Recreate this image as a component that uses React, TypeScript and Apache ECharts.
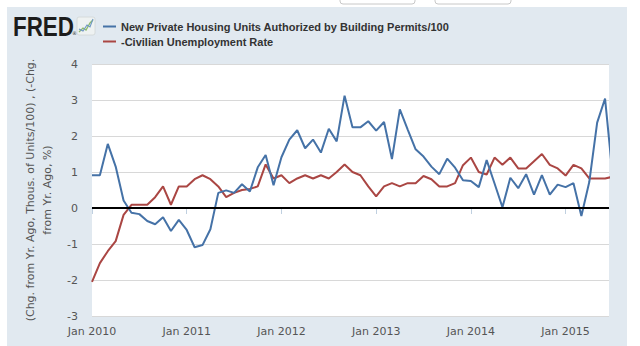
import React, { useEffect, useRef } from "react";
import * as echarts from "echarts";

const startYear = 2010;
const yearTickMonths = [0, 12, 24, 36, 48, 60];

const seriesNames = [
  "New Private Housing Units Authorized by Building Permits/100",
  "-Civilian Unemployment Rate",
];

const yAxisTitle = "(Chg. from Yr. Ago, Thous. of Units/100) , (-Chg.\nfrom Yr. Ago, %)";

// Monthly values, Jan 2010 .. Jul 2015
const permitsChange = [
  0.91, 0.91, 1.78, 1.15, 0.21, -0.13, -0.17, -0.36, -0.45, -0.26, -0.64, -0.33,
  -0.61, -1.09, -1.03, -0.59, 0.42, 0.49, 0.42, 0.66, 0.46, 1.13, 1.47, 0.63,
  1.41, 1.9, 2.16, 1.66, 1.9, 1.54, 2.2, 1.85, 3.12, 2.24, 2.24, 2.41,
  2.15, 2.39, 1.36, 2.74, 2.18, 1.63, 1.43, 1.15, 0.94, 1.37, 1.12, 0.77,
  0.75, 0.58, 1.33, 0.68, 0.02, 0.84, 0.55, 0.94, 0.37, 0.91, 0.37, 0.65,
  0.58, 0.69, -0.22, 0.72, 2.37, 3.04, 0.8,
];

const unemploymentChange = [
  -2.05, -1.53, -1.2, -0.92, -0.19, 0.09, 0.09, 0.09, 0.3, 0.6, 0.09, 0.6,
  0.6, 0.8, 0.91, 0.8, 0.6, 0.3, 0.42, 0.5, 0.53, 0.6, 1.21, 0.82,
  0.91, 0.69, 0.82, 0.91, 0.82, 0.91, 0.82, 1.0, 1.21, 1.0, 0.91, 0.6,
  0.32, 0.6, 0.69, 0.6, 0.69, 0.69, 0.89, 0.8, 0.6, 0.6, 0.69, 1.19,
  1.4, 1.0, 0.93, 1.4, 1.2, 1.4, 1.1, 1.1, 1.3, 1.5, 1.2, 1.1,
  0.9, 1.2, 1.1, 0.82, 0.82, 0.82, 0.87,
];

const colors = ["#4572A7", "#AA4643"];

export default function App() {
  const ref = useRef<HTMLDivElement | null>(null);

  useEffect(() => {
    document.body.style.margin = "0";
    if (!ref.current) return;
    const chart = echarts.init(ref.current, undefined, { renderer: "svg" });
    const toPairs = (arr: number[]) => arr.map((v, i) => [i, v]);
    chart.setOption({
      animation: false,
      textStyle: { fontFamily: "DejaVu Sans" },
      graphic: [
        {
          type: "rect",
          shape: { x: 340, y: -10, width: 75, height: 14, r: 3 },
          style: { fill: "#ffffff", stroke: "#c8c8c8", lineWidth: 1 },
          silent: true,
        },
        {
          type: "rect",
          shape: { x: 435, y: -10, width: 76, height: 14, r: 3 },
          style: { fill: "#ffffff", stroke: "#c8c8c8", lineWidth: 1 },
          silent: true,
        },
        {
          type: "text",
          x: 13,
          y: 12,
          scaleX: 0.8,
          style: {
            text: "FRED",
            font: 'bold 28px "Liberation Sans"',
            fill: "#1c1c1c",
          },
          silent: true,
        },
        {
          type: "text",
          x: 72,
          y: 30,
          style: { text: "®", font: '5px "DejaVu Sans"', fill: "#333" },
          silent: true,
        },
        {
          type: "rect",
          shape: { x: 77, y: 17, width: 18, height: 18, r: 2 },
          style: { fill: "#eef2f2", stroke: "#d0d6d6", lineWidth: 0.8 },
          silent: true,
        },
        {
          type: "polyline",
          shape: { points: [[79, 32], [83, 28], [86, 30], [90, 23], [93, 20]] },
          style: { stroke: "#8dbb6a", lineWidth: 1.3, fill: "none" },
          silent: true,
        },
        {
          type: "polyline",
          shape: { points: [[79, 29], [83, 31], [87, 25], [90, 27], [93, 19]] },
          style: { stroke: "#6f98c4", lineWidth: 1.1, fill: "none" },
          silent: true,
        },
      ],
      legend: {
        orient: "vertical",
        left: 98,
        top: 16,
        itemWidth: 13,
        itemHeight: 2,
        itemGap: 4,
        icon: "rect",
        selectedMode: false,
        data: seriesNames,
        textStyle: {
          fontFamily: "Liberation Sans",
          fontWeight: "bold",
          fontSize: 11,
          color: "#333333",
        },
      },
      grid: {
        left: 92,
        right: 31,
        top: 64,
        bottom: 30,
        show: true,
        backgroundColor: "#ffffff",
        borderWidth: 0,
      },
      xAxis: {
        type: "value",
        min: 0,
        max: 65.5,
        interval: 12,
        axisLine: { show: true, lineStyle: { color: "#C0D0E0", width: 1 } },
        axisTick: {
          show: true,
          length: 6,
          customValues: yearTickMonths,
          lineStyle: { color: "#C0D0E0" },
        },
        axisLabel: {
          customValues: yearTickMonths,
          formatter: (v: number) => `Jan ${startYear + Math.round(v / 12)}`,
          color: "#555555",
          fontSize: 11,
          margin: 10,
          fontFamily: "DejaVu Sans",
        },
        splitLine: { show: false },
      },
      yAxis: {
        type: "value",
        min: -3,
        max: 4,
        interval: 1,
        axisLine: { show: false },
        axisTick: { show: false },
        splitLine: { lineStyle: { color: "#D8D8D8", width: 1 } },
        axisLabel: {
          color: "#555555",
          fontSize: 11,
          margin: 14,
          fontFamily: "DejaVu Sans",
        },
        name: yAxisTitle,
        nameLocation: "middle",
        nameRotate: 90,
        nameGap: 24,
        nameTextStyle: {
          color: "#555555",
          fontSize: 11,
          lineHeight: 17,
          align: "center",
          fontFamily: "DejaVu Sans",
        },
      },
      series: [
        {
          name: seriesNames[0],
          type: "line",
          data: toPairs(permitsChange),
          showSymbol: false,
          symbol: "none",
          clip: true,
          color: colors[0],
          lineStyle: { color: colors[0], width: 2 },
          z: 3,
          markLine: {
            silent: true,
            symbol: ["none", "none"],
            label: { show: false },
            lineStyle: { color: "#000000", width: 2, type: "solid" },
            data: [{ yAxis: 0 }],
          },
        },
        {
          name: seriesNames[1],
          type: "line",
          data: toPairs(unemploymentChange),
          showSymbol: false,
          symbol: "none",
          clip: true,
          color: colors[1],
          lineStyle: { color: colors[1], width: 2 },
          z: 2,
        },
      ],
    });
    return () => chart.dispose();
  }, []);

  return (
    <div style={{ position: "relative", width: 640, height: 346, background: "#ffffff", overflow: "hidden" }}>
      <div style={{ position: "absolute", left: 7, top: 7, width: 620, height: 339, background: "#E1E9F0" }} />
      <div ref={ref} style={{ position: "absolute", left: 0, top: 0, width: 640, height: 346 }} />
    </div>
  );
}
